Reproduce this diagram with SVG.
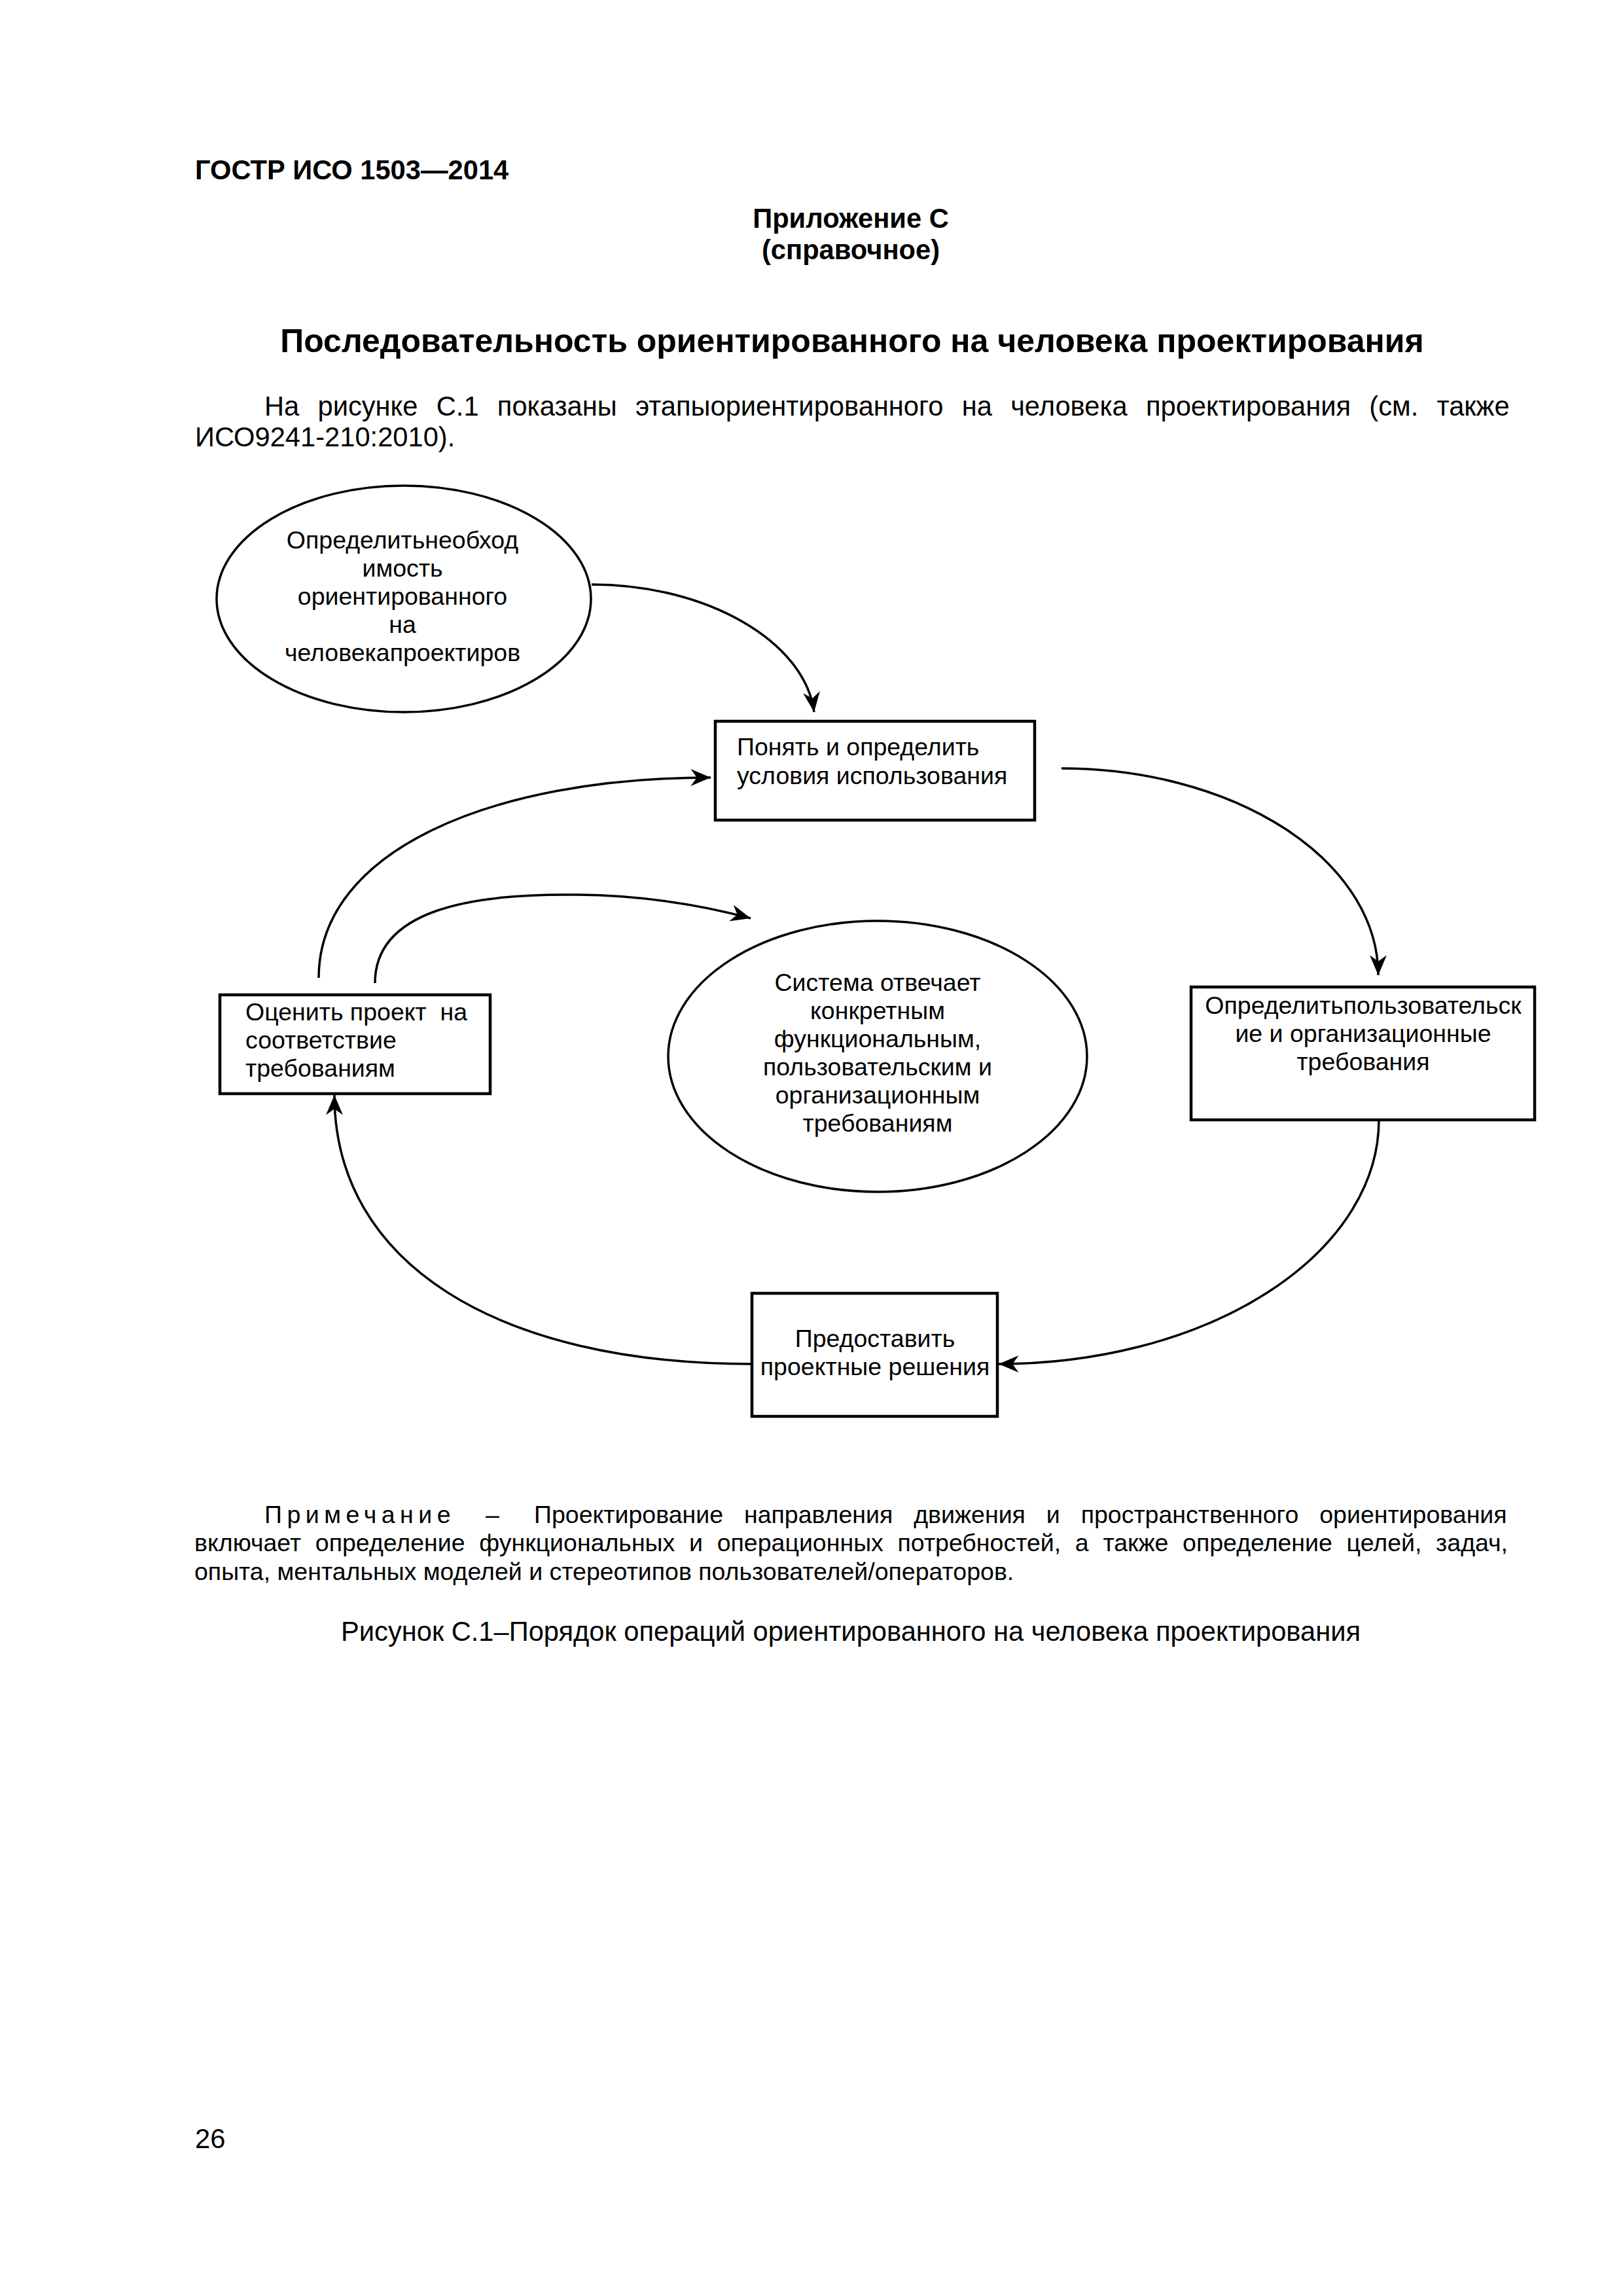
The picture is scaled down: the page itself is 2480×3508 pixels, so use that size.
<svg xmlns="http://www.w3.org/2000/svg" width="2480" height="3508" viewBox="0 0 2480 3508">
<style>
text{font-family:"Liberation Sans",Arial,sans-serif;fill:#000}
.b{font-weight:bold}
.h{font-size:41.67px}
.t{font-size:50px}
.body{font-size:41.67px}
.note{font-size:37.5px}
.d{font-size:37.5px}
.c{text-anchor:middle}
.box{fill:#fff;stroke:#000;stroke-width:4.5}
.ell{fill:#fff;stroke:#000;stroke-width:3.5}
.con{fill:none;stroke:#000;stroke-width:3.5;marker-end:url(#ah)}
</style>
<defs>
<marker id="ah" markerUnits="userSpaceOnUse" markerWidth="40" markerHeight="40" viewBox="-30 -15 34 30" refX="0" refY="0" orient="auto">
<path d="M0,0 L-26,-11 L-18,0 L-26,11 Z" fill="#000"/>
</marker>
</defs>
<rect width="2480" height="3508" fill="#fff"/>
<g id="header">
<text class="b h" x="298" y="274">ГОСТР ИСО 1503—2014</text>
<text class="b h c" x="1300" y="348">Приложение С</text>
<text class="b h c" x="1300" y="396">(справочное)</text>
<text class="b t c" x="1302" y="538">Последовательность ориентированного на человека проектирования</text>
<text class="body" x="404" y="635" word-spacing="16.7">На рисунке С.1 показаны этапыориентированного на человека проектирования (см. также</text>
<text class="body" x="298" y="682">ИСО9241-210:2010).</text>
</g>
<g id="connectors">
<path class="con" d="M904,893 C1080,893 1230,980 1244,1088"/>
<path class="con" d="M1622,1174 A484,316 0 0 1 2106,1490"/>
<path class="con" d="M2107,1711 A581,373 0 0 1 1526,2084"/>
<path class="con" d="M1149,2084 C760,2084 511,1930 511,1673"/>
<path class="con" d="M487,1494 C487,1300 750,1188 1086,1188"/>
<path class="con" d="M573,1502 C573,1390 720,1365 881,1367 C990,1368 1080,1385 1147,1403"/>
</g>
<g id="n1">
<ellipse class="ell" cx="617" cy="915" rx="286" ry="173"/>
<text class="d c" x="615" y="838">Определитьнеобход</text>
<text class="d c" x="615" y="881">имость</text>
<text class="d c" x="615" y="924">ориентированного</text>
<text class="d c" x="615" y="967">на</text>
<text class="d c" x="615" y="1010">человекапроектиров</text>
</g>
<g id="n2">
<rect class="box" x="1093" y="1102" width="488" height="151"/>
<text class="d" x="1126" y="1154">Понять и определить</text>
<text class="d" x="1126" y="1198">условия использования</text>
</g>
<g id="n3">
<rect class="box" x="1820" y="1508" width="525" height="203"/>
<text class="d c" x="2083" y="1549">Определитьпользовательск</text>
<text class="d c" x="2083" y="1592">ие и организационные</text>
<text class="d c" x="2083" y="1635">требования</text>
</g>
<g id="n4">
<rect class="box" x="1149" y="1976" width="375" height="188"/>
<text class="d c" x="1337" y="2058">Предоставить</text>
<text class="d c" x="1337" y="2101">проектные решения</text>
</g>
<g id="n5">
<rect class="box" x="336" y="1520" width="413" height="151"/>
<text class="d" x="375" y="1559" xml:space="preserve">Оценить проект  на</text>
<text class="d" x="375" y="1602">соответствие</text>
<text class="d" x="375" y="1645">требованиям</text>
</g>
<g id="n6">
<ellipse class="ell" cx="1341" cy="1614" rx="320" ry="207"/>
<text class="d c" x="1341" y="1514">Система отвечает</text>
<text class="d c" x="1341" y="1557">конкретным</text>
<text class="d c" x="1341" y="1600">функциональным,</text>
<text class="d c" x="1341" y="1643">пользовательским и</text>
<text class="d c" x="1341" y="1686">организационным</text>
<text class="d c" x="1341" y="1729">требованиям</text>
</g>
<g id="footer">
<text class="note" x="404" y="2327" letter-spacing="7.5">Примечание</text>
<text class="note" x="742" y="2327">–</text>
<text class="note" x="816" y="2327" word-spacing="21.5">Проектирование направления движения и пространственного ориентирования</text>
<text class="note" x="297" y="2370" word-spacing="11.3">включает определение функциональных и операционных потребностей, а также определение целей, задач,</text>
<text class="note" x="297" y="2414">опыта, ментальных моделей и стереотипов пользователей/операторов.</text>
<text class="body c" x="1300" y="2507">Рисунок С.1–Порядок операций ориентированного на человека проектирования</text>
<text class="body" x="298" y="3282">26</text>
</g>
</svg>
